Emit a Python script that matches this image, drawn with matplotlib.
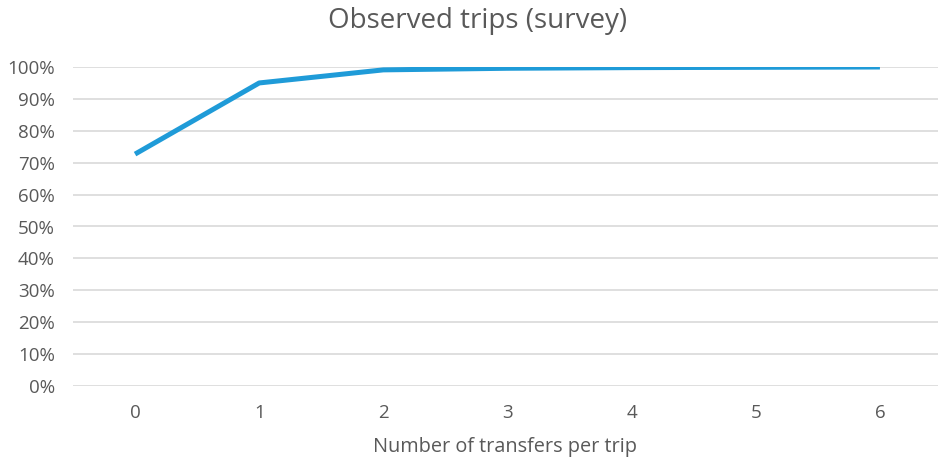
import matplotlib
matplotlib.use("Agg")
import matplotlib.pyplot as plt
from matplotlib.ticker import PercentFormatter

# data
transfers = [0, 1, 2, 3, 4, 5, 6]
cum_share = [0.727, 0.950, 0.991, 0.996, 0.998, 0.999, 1.000]
y_ticks = [i / 10 for i in range(11)]

plt.rcParams['font.family'] = ['Open Sans', 'DejaVu Sans']
text_col = '#595959'

W, H = 938, 461
fig = plt.figure(figsize=(W / 100, H / 100), dpi=100)
ax = fig.add_axes([73 / W, (H - 386) / H, 869 / W, 319 / H])

ax.plot(transfers, cum_share, color='#1f9bd8', lw=3.6, solid_capstyle='butt',
        solid_joinstyle='round', zorder=3)

ax.set_xlim(-0.5, 6.5)
ax.set_ylim(0, 1)
ax.set_yticks(y_ticks)
ax.yaxis.set_major_formatter(PercentFormatter(1.0, decimals=0))
ax.set_xticks(transfers)
ax.grid(axis='y', color='#d9d9d9', lw=1.2)
ax.set_axisbelow(True)
for s in ax.spines.values():
    s.set_visible(False)
ax.tick_params(length=0, colors=text_col, labelsize=13.5)
ax.tick_params(axis='y', pad=13)
ax.tick_params(axis='x', pad=13)

fig.text(478 / W, 1 - 21 / H, 'Observed trips (survey)', ha='center', va='center',
         fontsize=20, color=text_col)
fig.text(505 / W, 1 - 447 / H, 'Number of transfers per trip', ha='center', va='center',
         fontsize=14.3, color=text_col)

fig.savefig('out.png', dpi=100)
